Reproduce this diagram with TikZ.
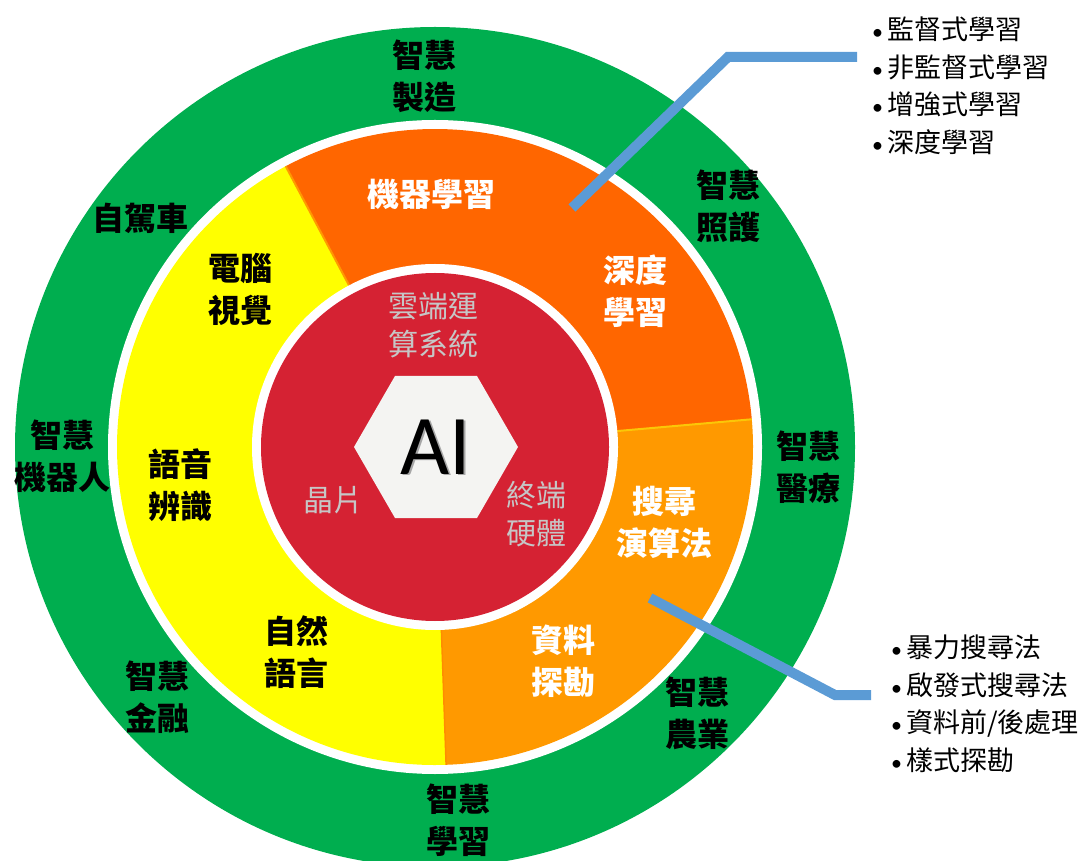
\documentclass[tikz,border=0pt]{standalone}
\usepackage{fontspec}
\usetikzlibrary{shapes.geometric}
\setmainfont{Noto Sans CJK TC}
\newfontfamily\latinfont{Carlito}
\definecolor{ringgreen}{HTML}{00AE4F}
\definecolor{corered}{HTML}{D52233}
\definecolor{mlorange}{HTML}{FF6600}
\definecolor{srorange}{HTML}{FF9900}
\definecolor{cvyellow}{HTML}{FFFF00}
\definecolor{hexwhite}{HTML}{F4F4F2}
\definecolor{linkblue}{HTML}{5B9BD5}
\definecolor{coregray}{HTML}{C6C6C6}
\newcommand{\dotitem}{{\latinfont\fontsize{22}{22}\selectfont •}\hspace{4pt}}

\begin{document}
\begin{tikzpicture}[x=1pt,y=1pt,
    darklabel/.style={align=center,font=\fontsize{32}{42}\selectfont\bfseries,text=black,inner sep=0pt},
    lightlabel/.style={darklabel,text=white},
    corelabel/.style={align=center,font=\fontsize{30}{38}\selectfont,text=coregray,inner sep=0pt},
    bulletlist/.style={align=left,anchor=west,font=\fontsize{27}{37.5}\selectfont,inner sep=0pt},
    link/.style={draw=linkblue,line width=10pt}]

    \useasboundingbox (0,0) rectangle (1083,860);
    \coordinate (c) at (435,413);

    % rings
    \fill[ringgreen] (c) circle (420);
    \fill[white] (c) circle (327);
    \fill[mlorange] (c) -- ++(118:318) arc (118:5:318) -- cycle;
    \fill[srorange] (c) -- ++(5:318) arc (5:-88:318) -- cycle;
    \fill[cvyellow] (c) -- ++(272:318) arc (272:118:318) -- cycle;
    \draw[yellow!60!orange, line width=2pt] (c) ++(5:183) -- ++(5:135);
    \draw[orange!80!yellow, line width=2pt] (c) ++(118:183) -- ++(118:135);
    \draw[orange!90!yellow, line width=1.5pt] (c) ++(272:183) -- ++(272:135);
    \fill[white] (c) circle (183);
    \fill[corered] (c) circle (174);

    % core
    \node[regular polygon, regular polygon sides=6, minimum size=164pt, fill=hexwhite, inner sep=0pt] (hex) at (436,413) {};
    \node[font=\latinfont\fontsize{85}{85}\selectfont, text=gray!70, inner sep=0pt] at ([shift={(1.5,-1.5)}]hex.center) {AI};
    \node[font=\latinfont\fontsize{85}{85}\selectfont, text=black, inner sep=0pt] (ai) at (hex.center) {AI};
    \node[corelabel] (cloud) at (433,535) {雲端運\\算系統};
    \node[corelabel] (chip) at (333,360) {晶片};
    \node[corelabel] (edge) at (536,346) {終端\\硬體};

    % middle ring
    \node[lightlabel] (ml) at (431,666) {機器學習};
    \node[lightlabel] (dl) at (635,569) {深度\\學習};
    \node[darklabel] (cv) at (240,571) {電腦\\視覺};
    \node[darklabel] (asr) at (180,375) {語音\\辨識};
    \node[darklabel] (nlp) at (296,208) {自然\\語言};
    \node[lightlabel] (search) at (664,338) {搜尋\\演算法};
    \node[lightlabel] (dm) at (563,199) {資料\\探勘};

    % outer ring
    \node[darklabel] (mfg) at (424,784) {智慧\\製造};
    \node[darklabel] (car) at (140,642) {自駕車};
    \node[darklabel] (care) at (728,654) {智慧\\照護};
    \node[darklabel] (robot) at (62,404) {智慧\\機器人};
    \node[darklabel] (med) at (808,393) {智慧\\醫療};
    \node[darklabel] (fin) at (157,163) {智慧\\金融};
    \node[darklabel] (agri) at (697,147) {智慧\\農業};
    \node[darklabel] (edu) at (458,40) {智慧\\學習};

    % lists
    \node[bulletlist] (mllist) at (872,774) {\dotitem 監督式學習\\\dotitem 非監督式學習\\\dotitem 增強式學習\\\dotitem 深度學習};
    \node[bulletlist] (srlist) at (891,156) {\dotitem 暴力搜尋法\\\dotitem 啟發式搜尋法\\\dotitem 資料前/後處理\\\dotitem 樣式探勘};

    \coordinate (mltip) at (572,652);
    \coordinate (mlbend) at (728,803);
    \coordinate (mlend) at (857,803);
    \draw[link] (mltip) -- (mlbend) -- (mlend);

    \coordinate (srtip) at (650,262);
    \coordinate (srbend) at (835,165);
    \coordinate (srend) at (871,165);
    \draw[link] (srtip) -- (srbend) -- (srend);
\end{tikzpicture}
\end{document}
